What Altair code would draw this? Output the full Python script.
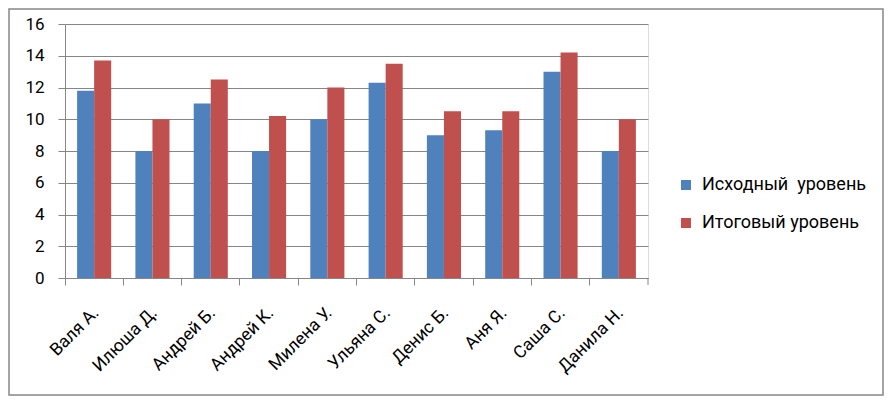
import altair as alt
import pandas as pd

names = ["Валя А.", "Илюша Д.", "Андрей Б.", "Андрей К.", "Милена У.",
         "Ульяна С.", "Денис Б.", "Аня Я.", "Саша С.", "Данила Н."]
series_names = ["Исходный\u00a0 уровень", "Итоговый уровень"]
initial = [11.8, 8, 11, 8, 10, 12.3, 9, 9.3, 13, 8]
final = [13.7, 10, 12.5, 10.2, 12, 13.5, 10.5, 10.5, 14.2, 10]
colors = ["#4F81BD", "#C0504D"]
y_ticks = [0, 2, 4, 6, 8, 10, 12, 14, 16]

rows = []
for i, n in enumerate(names):
    rows.append({"name": n, "series": series_names[0], "value": initial[i]})
    rows.append({"name": n, "series": series_names[1], "value": final[i]})
df = pd.DataFrame(rows)

FONT = "Roboto"
GRAY = "#868686"
W, H = 583, 254

bars = alt.Chart(df).mark_bar().encode(
    x=alt.X("name:N", sort=names, title=None,
            scale=alt.Scale(paddingInner=0, paddingOuter=0),
            axis=alt.Axis(labelAngle=-45, labelAlign="right", labelBaseline="middle",
                          bandPosition=0, tickSize=7, tickColor=GRAY, domainColor=GRAY,
                          labelFontSize=17.5, labelColor="#000000", labelFont=FONT,
                          labelPadding=25, labelOffset=2, grid=False)),
    xOffset=alt.XOffset("series:N", sort=series_names,
                        scale=alt.Scale(paddingInner=0, paddingOuter=0.71)),
    y=alt.Y("value:Q", title=None,
            scale=alt.Scale(domain=[0, 16], nice=False),
            axis=alt.Axis(values=y_ticks, tickSize=7, tickColor=GRAY, domainColor=GRAY,
                          gridColor=GRAY, gridOpacity=1, labelFontSize=17,
                          labelColor="#000000", labelFont=FONT, labelPadding=14)),
    color=alt.Color("series:N", sort=series_names,
                    scale=alt.Scale(domain=series_names, range=colors),
                    legend=alt.Legend(title=None, orient="none", legendX=612, legendY=152,
                                      symbolType="square", symbolSize=100,
                                      symbolStrokeWidth=0, labelFontSize=18,
                                      labelFont=FONT, labelColor="#000000",
                                      rowPadding=20, padding=0, labelOffset=7,
                                      labelLimit=300)),
)

end_tick = alt.Chart(pd.DataFrame({"a": [0]})).mark_rule(color=GRAY).encode(
    x=alt.value(W), y=alt.value(H), y2=alt.value(H + 7))

frame = alt.Chart(pd.DataFrame({"a": [0]})).mark_rect(
    fillOpacity=0, stroke=GRAY, strokeWidth=1.5).encode(
    x=alt.value(-56), x2=alt.value(818), y=alt.value(-15), y2=alt.value(371))

chart = alt.layer(bars, end_tick, frame).properties(
    width=W, height=H,
    autosize=alt.AutoSizeParams(type="none"),
    padding={"left": 57, "top": 16, "right": 236, "bottom": 118},
).configure_view(stroke=None).configure(background="white")

chart.save("out.html", embed_options={"renderer": "svg", "actions": False})
